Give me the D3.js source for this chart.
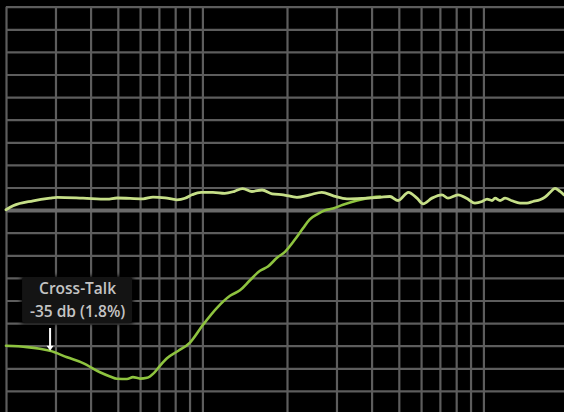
<!DOCTYPE html>
<html>
<head>
<meta charset="utf-8">
<script src="https://cdn.jsdelivr.net/npm/d3@7"></script>
<style>
  html, body { margin: 0; padding: 0; background: #000; overflow: hidden; }
  svg { display: block; }
</style>
</head>
<body>
<script>
// Frequency response (Hz, dB)
const mainFreq = [20, 21.2, 25, 28.7, 30.4, 37.6, 45.8, 49.7, 61.5, 66.7, 73.6, 81.2, 86.7, 91.8, 98.9,
  109, 120, 130, 139, 150, 163, 177, 194, 217, 241, 266, 294, 327, 373, 429, 465, 497, 541, 580, 610,
  656, 712, 748, 812, 874, 933, 989, 1030, 1073, 1100, 1146, 1194, 1264, 1350, 1429, 1501, 1590, 1656,
  1725, 1798, 1873, 1936];
const mainDb = [-4.93, -4.05, -2.94, -2.35, -2.17, -2.35, -2.57, -2.32, -2.5, -2.12, -2.28, -2.72, -2.39,
  -1.62, -1.06, -1.06, -1.28, -0.84, -0.24, -0.88, -0.55, -1.39, -1.62, -2.17, -1.62, -1.06, -1.9, -2.5,
  -2.39, -2.17, -1.99, -2.88, -1.06, -2.35, -3.61, -2.35, -1.62, -2.35, -1.62, -2.46, -3.45, -3.1, -2.57,
  -2.88, -2.35, -2.88, -2.35, -2.94, -3.45, -3.45, -3.1, -2.72, -2.12, -1.11, -0.18, -0.88, -1.62];

// Cross-talk (Hz, dB)
const xtalkFreq = [20, 23.8, 26.4, 28.7, 33, 37.6, 43.2, 46.9, 49.7, 53.9, 56.6, 60, 63.5, 67.3, 70.6,
  74.8, 81.9, 90.3, 100.5, 112.7, 125.4, 136, 147.7, 160.3, 171.1, 184.3, 196.7, 213.7, 228, 241, 257.8,
  273, 291.6, 316.4, 355, 385.4, 429];
const xtalkDb = [-35.02, -35.31, -35.69, -36.13, -37.57, -38.85, -40.88, -41.81, -42.32, -42.37, -41.95,
  -42.28, -42.1, -41, -39.45, -37.79, -36.17, -34.31, -30.38, -26.62, -23.96, -22.74, -20.53, -18.43,
  -17.48, -15.55, -14.23, -11.46, -9.03, -7.04, -5.82, -5.04, -4.65, -3.83, -2.88, -2.35, -2.01];

// Grid ticks
const dbTicks = d3.range(-50, 45, 5);
const freqTicks = [20, 30, 40, 50, 60, 70, 80, 90, 100, 200, 300, 400, 500, 600, 700, 800, 900, 1000, 2000];
const refLevel = -5;

// Annotation
const labelLines = ["Cross-Talk", "-35 db (1.8%)"];
const labelFreq = 28.7;

const W = 564, H = 412;
const svg = d3.select("body").append("svg").attr("width", W).attr("height", H)
  .style("background", "#000");

const x = d3.scaleLog().domain([20, 20000]).range([6, 849]);
const y = d3.scaleLinear().domain([-50, 40]).range([413.5, 6.7]);

const gridColor = "#5d5d5d";

// vertical grid
const xg = svg.append("g").attr("transform", `translate(0,${H + 10})`)
  .call(d3.axisBottom(x).tickValues(freqTicks).tickSize(-(H + 10 - y(40))).tickFormat(""));
xg.select(".domain").remove();
xg.selectAll(".tick line").attr("stroke", gridColor).attr("stroke-width", 2.2);

// horizontal grid
const yg = svg.append("g").attr("transform", `translate(${x(20)},0)`)
  .call(d3.axisLeft(y).tickValues(dbTicks).tickSize(-(W + 10)).tickFormat(""));
yg.select(".domain").remove();
yg.selectAll(".tick line").attr("stroke", gridColor).attr("stroke-width", 2.2);
yg.selectAll(".tick").filter(d => d === refLevel).select("line")
  .attr("stroke", "#6a6a6a").attr("stroke-width", 4);

const line = d3.line().curve(d3.curveMonotoneX);

const xtalkPts = xtalkFreq.map((f, i) => [x(f), y(xtalkDb[i])]);
const mainPts = mainFreq.map((f, i) => [x(f), y(mainDb[i])]);

svg.append("path").attr("d", line(xtalkPts))
  .attr("fill", "none").attr("stroke", "#8ec33f").attr("stroke-width", 2.6)
  .attr("stroke-linejoin", "round").attr("stroke-linecap", "round");

svg.append("path").attr("d", line(mainPts))
  .attr("fill", "none").attr("stroke", "#c6df88").attr("stroke-width", 2.8)
  .attr("stroke-linejoin", "round").attr("stroke-linecap", "round");

// annotation box
const defs = svg.append("defs");
defs.append("filter").attr("id", "soft").attr("x", "-20%").attr("y", "-20%")
  .attr("width", "140%").attr("height", "140%")
  .append("feGaussianBlur").attr("stdDeviation", 2);

const ax = x(labelFreq);
const boxW = 110, boxH = 46, boxX = ax - 28, boxY = 277;
svg.append("rect").attr("x", boxX - 1).attr("y", boxY - 1).attr("width", boxW + 2).attr("height", boxH + 2)
  .attr("fill", "#000").attr("filter", "url(#soft)");
svg.append("rect").attr("x", boxX).attr("y", boxY).attr("width", boxW).attr("height", boxH)
  .attr("rx", 3).attr("fill", "#141414");

const cx = boxX + boxW / 2 + 0.5;
svg.append("g").selectAll("text").data(labelLines).join("text")
  .attr("x", cx).attr("y", (d, i) => 293.5 + i * 23)
  .attr("text-anchor", "middle")
  .attr("fill", "#c4c4c4")
  .style("font-family", "'Open Sans', sans-serif")
  .style("font-weight", 600)
  .style("font-size", "15.5px")
  .text(d => d);

// arrow pointing to the cross-talk curve
const tipY = y(xtalkDb[xtalkFreq.indexOf(labelFreq)]);
svg.append("line").attr("x1", ax).attr("x2", ax).attr("y1", 328).attr("y2", tipY - 3)
  .attr("stroke", "#fff").attr("stroke-width", 2);
svg.append("path")
  .attr("d", `M${ax - 3.5},${tipY - 5} L${ax + 3.5},${tipY - 5} L${ax},${tipY} Z`)
  .attr("fill", "#fff");
</script>
</body>
</html>
